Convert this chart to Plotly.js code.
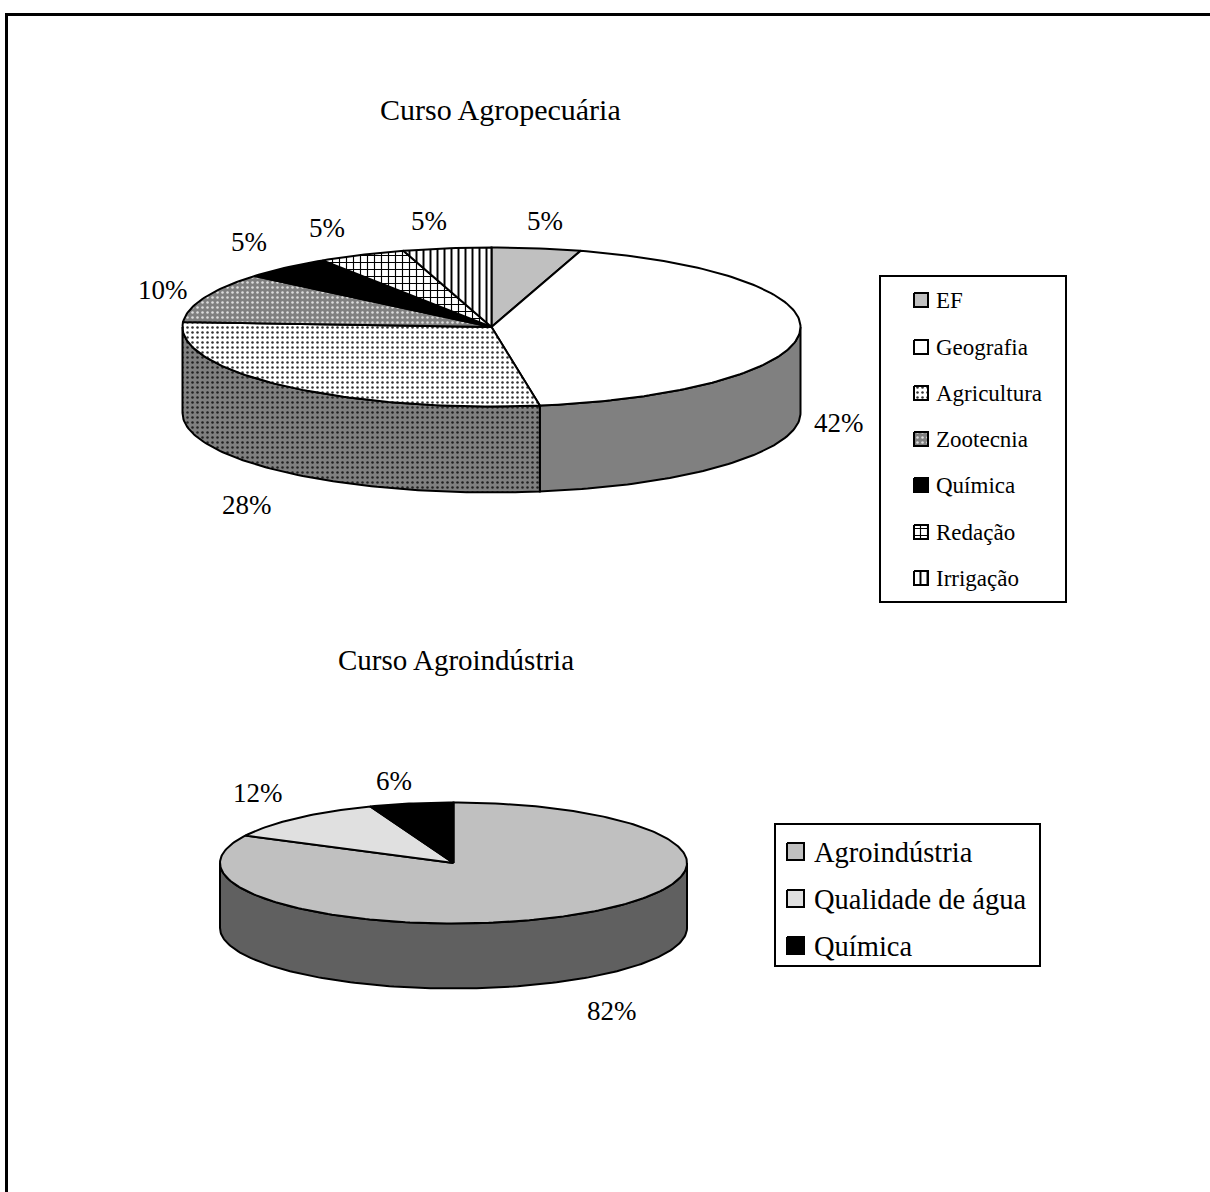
<!DOCTYPE html>
<html><head><meta charset="utf-8">
<script src="https://cdn.plot.ly/plotly-3.0.1.min.js"></script>
<style>html,body{margin:0;padding:0;background:#fff}#c{width:1210px;height:1192px}</style>
</head><body><div id="c"></div>
<script>
// ---------- data ----------
const agroCategories = ['EF','Geografia','Agricultura','Zootecnia','Química','Redação','Irrigação'];
const agroValues = [4.65,42.85,28.5,10.1,4.7,4.6,4.6];
const agroLabels = ['5%','42%','28%','10%','5%','5%','5%'];
const induCategories = ['Agroindústria','Qualidade de água','Química'];
const induValues = [82.5,11.7,5.8];
const induLabels = ['82%','12%','6%'];
const agroTitle = 'Curso Agropecuária';
const induTitle = 'Curso Agroindústria';

// ---------- styles ----------
const agroTop = [
 {fc:'#c0c0c0'},
 {fc:'#ffffff'},
 {fc:'#ffffff',p:{shape:'.',size:5,solidity:0.2,fgcolor:'#333',bgcolor:'#fff'}},
 {fc:'#808080',p:{shape:'.',size:5,solidity:0.2,fgcolor:'#ddd',bgcolor:'#808080'}},
 {fc:'#000000'},
 {fc:'#ffffff',p:{shape:'+',size:7,solidity:0.3,fgcolor:'#000',bgcolor:'#fff'}},
 {fc:'#ffffff',p:{shape:'|',size:7,solidity:0.28,fgcolor:'#000',bgcolor:'#fff'}}
];
const agroSide = [
 {fc:'#606060'},
 {fc:'#808080'},
 {fc:'#808080',p:{shape:'.',size:5,solidity:0.2,fgcolor:'#222',bgcolor:'#808080'}},
 {fc:'#404040'},{fc:'#000000'},{fc:'#808080'},{fc:'#808080'}
];
const induTop = [{fc:'#c0c0c0'},{fc:'#e0e0e0'},{fc:'#000000'}];
const induSide = [{fc:'#606060'},{fc:'#707070'},{fc:'#000000'}];

const agroGeom = {cx:491.5,cy:327,rx:309,ry:79.5,d:86};
const induGeom = {cx:453.5,cy:863,rx:233.5,ry:60.5,d:65};

// ---------- geometry through the axes ----------
const traces = [];
function poly(xs,ys,st,name){
  const t = {type:'scatter',mode:'lines',x:xs,y:ys,fill:'toself',
    fillcolor:st.fc,line:{color:'#000',width:2},name:name,hoverinfo:'name',showlegend:false};
  if(st.p) t.fillpattern = st.p;
  traces.push(t);
}
function pt(g,a,dz){ return [g.cx+g.rx*Math.sin(a), g.cy-g.ry*Math.cos(a)+(dz||0)]; }
function pie3d(g,vals,names,top,side){
  const total = vals.reduce((s,v)=>s+v,0);
  let acc=0; const arcs=[];
  vals.forEach(v=>{arcs.push([acc/total*2*Math.PI,(acc+v)/total*2*Math.PI]);acc+=v;});
  // side walls (visible front half only)
  arcs.forEach((r,i)=>{
    const a0=Math.max(r[0],Math.PI/2), a1=Math.min(r[1],3*Math.PI/2);
    if(a1<=a0) return;
    const xs=[],ys=[]; const n=Math.ceil((a1-a0)/0.02);
    for(let k=0;k<=n;k++){const p=pt(g,a0+(a1-a0)*k/n);xs.push(p[0]);ys.push(p[1]);}
    for(let k=n;k>=0;k--){const p=pt(g,a0+(a1-a0)*k/n,g.d);xs.push(p[0]);ys.push(p[1]);}
    xs.push(xs[0]);ys.push(ys[0]);
    poly(xs,ys,side[i],names[i]+' lateral');
  });
  // top faces
  arcs.forEach((r,i)=>{
    const xs=[g.cx],ys=[g.cy]; const n=Math.ceil((r[1]-r[0])/0.02);
    for(let k=0;k<=n;k++){const p=pt(g,r[0]+(r[1]-r[0])*k/n);xs.push(p[0]);ys.push(p[1]);}
    xs.push(g.cx);ys.push(g.cy);
    poly(xs,ys,top[i],names[i]);
  });
}
pie3d(agroGeom,agroValues,agroCategories,agroTop,agroSide);
pie3d(induGeom,induValues,induCategories,induTop,induSide);

// ---------- legend swatches ----------
function swatch(x,y,s,st,name){
  poly([x,x+s,x+s,x,x],[y,y,y+s,y+s,y],st,name+' (legenda)');
}
const annotations=[];
function txt(x,y,t,size,anchor){
  annotations.push({xref:'x',yref:'y',x:x,y:y,text:t,showarrow:false,xanchor:anchor||'center',yanchor:'middle',
    font:{family:'Liberation Serif, Times New Roman, serif',size:size,color:'#000'}});
}
const agroLegendY=[300,347,393,439,485,532,578];
agroCategories.forEach((c,i)=>{
  swatch(914,agroLegendY[i]-7,14,agroTop[i],c);
  txt(934,agroLegendY[i],c,23,'left');
});
const induLegendY=[852,899,946];
induCategories.forEach((c,i)=>{
  swatch(787,induLegendY[i]-9,17,induTop[i],c);
  txt(812,induLegendY[i],c,28.5,'left');
});

txt(500,109,agroTitle,30);
txt(456,660,induTitle,29);
// percent labels
[[545,221],[839,423],[247,505],[163,290],[249,242],[327,228],[429,221]].forEach((p,i)=>txt(p[0],p[1],agroLabels[i],27));
[[612,1011],[258,793],[394,781]].forEach((p,i)=>txt(p[0],p[1],induLabels[i],27));

const layout={
  width:1210,height:1192,margin:{l:0,r:0,t:0,b:0},
  paper_bgcolor:'#fff',plot_bgcolor:'#fff',showlegend:false,
  xaxis:{range:[0,1210],visible:false,fixedrange:true},
  yaxis:{range:[1192,0],visible:false,fixedrange:true},
  annotations:annotations,
  shapes:[
    {type:'rect',xref:'x',yref:'y',x0:880,x1:1066,y0:276,y1:602,line:{color:'#000',width:2},fillcolor:'rgba(0,0,0,0)',layer:'below'},
    {type:'rect',xref:'x',yref:'y',x0:775,x1:1040,y0:824,y1:966,line:{color:'#000',width:2},fillcolor:'rgba(0,0,0,0)',layer:'below'},
    {type:'line',xref:'x',yref:'y',x0:6.5,x1:6.5,y0:13,y1:1192,line:{color:'#000',width:3}},
    {type:'line',xref:'x',yref:'y',x0:5,x1:1210,y0:14.5,y1:14.5,line:{color:'#000',width:3}}
  ]
};
Plotly.newPlot('c',traces,layout,{displayModeBar:false,staticPlot:true});
</script></body></html>
